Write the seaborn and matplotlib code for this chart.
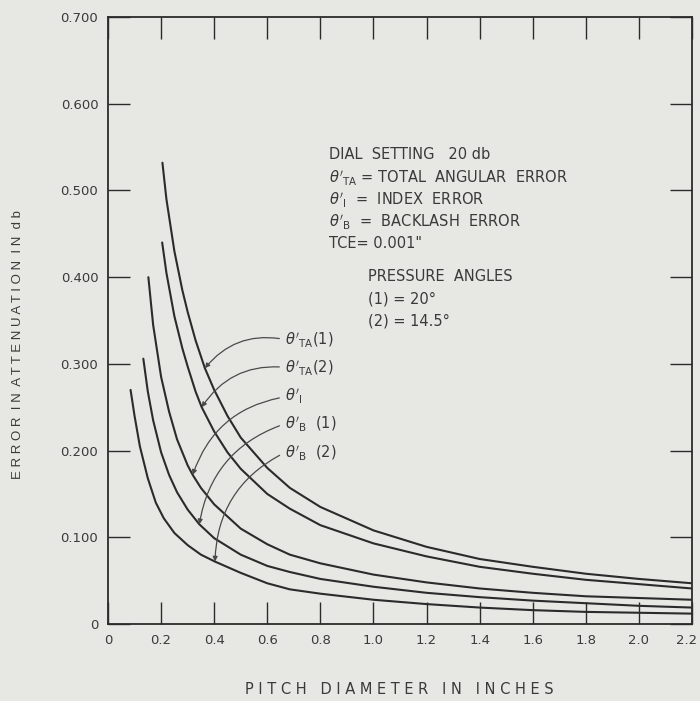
import matplotlib
matplotlib.use("Agg")
import matplotlib.pyplot as plt
import matplotlib.transforms as mtransforms
import seaborn as sns
import pandas as pd

# values
ta1_x = [0.205, 0.22, 0.25, 0.28, 0.30, 0.33, 0.365, 0.40, 0.45, 0.50, 0.60, 0.685, 0.80, 1.0, 1.2, 1.4, 1.6, 1.8, 2.0, 2.2]
ta1_y = [0.532, 0.490, 0.430, 0.385, 0.360, 0.327, 0.295, 0.270, 0.240, 0.215, 0.180, 0.157, 0.135, 0.108, 0.089, 0.075, 0.066, 0.058, 0.052, 0.047]

ta2_x = [0.204, 0.22, 0.25, 0.28, 0.30, 0.33, 0.353, 0.40, 0.45, 0.50, 0.60, 0.685, 0.80, 1.0, 1.2, 1.4, 1.6, 1.8, 2.0, 2.2]
ta2_y = [0.440, 0.405, 0.355, 0.318, 0.297, 0.268, 0.250, 0.222, 0.198, 0.179, 0.150, 0.133, 0.114, 0.093, 0.078, 0.066, 0.058, 0.051, 0.046, 0.041]

i_x = [0.152, 0.17, 0.20, 0.23, 0.26, 0.30, 0.319, 0.35, 0.40, 0.50, 0.60, 0.685, 0.80, 1.0, 1.2, 1.4, 1.6, 1.8, 2.0, 2.2]
i_y = [0.400, 0.345, 0.285, 0.245, 0.213, 0.183, 0.172, 0.157, 0.138, 0.110, 0.092, 0.080, 0.070, 0.057, 0.048, 0.041, 0.036, 0.032, 0.030, 0.028]

b1_x = [0.133, 0.15, 0.17, 0.20, 0.23, 0.26, 0.30, 0.344, 0.40, 0.50, 0.60, 0.685, 0.80, 1.0, 1.2, 1.4, 1.6, 1.8, 2.0, 2.2]
b1_y = [0.306, 0.268, 0.235, 0.198, 0.172, 0.152, 0.132, 0.115, 0.099, 0.080, 0.067, 0.060, 0.052, 0.043, 0.036, 0.031, 0.027, 0.024, 0.021, 0.019]

b2_x = [0.085, 0.10, 0.12, 0.15, 0.18, 0.21, 0.25, 0.30, 0.35, 0.403, 0.50, 0.60, 0.685, 0.80, 1.0, 1.2, 1.4, 1.6, 1.8, 2.0, 2.2]
b2_y = [0.270, 0.240, 0.205, 0.168, 0.140, 0.122, 0.105, 0.091, 0.080, 0.072, 0.059, 0.047, 0.040, 0.035, 0.028, 0.023, 0.019, 0.016, 0.014, 0.013, 0.012]

curve_names = ["TA1", "TA2", "I", "B1", "B2"]
curve_labels = [r"$\theta'_{\mathrm{TA}}$(1)", r"$\theta'_{\mathrm{TA}}$(2)", r"$\theta'_{\mathrm{I}}$",
                r"$\theta'_{\mathrm{B}}$  (1)", r"$\theta'_{\mathrm{B}}$  (2)"]
# where each callout arrow touches its curve
tip_x = [0.365, 0.353, 0.319, 0.344, 0.403]
tip_y = [0.295, 0.250, 0.172, 0.115, 0.072]
label_y = [0.328, 0.296, 0.262, 0.231, 0.198]

xticks = [0, 0.2, 0.4, 0.6, 0.8, 1.0, 1.2, 1.4, 1.6, 1.8, 2.0, 2.2]
xtick_labels = ["0", "0.2", "0.4", "0.6", "0.8", "1.0", "1.2", "1.4", "1.6", "1.8", "2.0", "2.2"]
yticks = [0, 0.1, 0.2, 0.3, 0.4, 0.5, 0.6, 0.7]
ytick_labels = ["0", "0.100", "0.200", "0.300", "0.400", "0.500", "0.600", "0.700"]

frames = []
for name, xs, ys in zip(curve_names, [ta1_x, ta2_x, i_x, b1_x, b2_x], [ta1_y, ta2_y, i_y, b1_y, b2_y]):
    frames.append(pd.DataFrame({"pitch": xs, "error": ys, "curve": name}))
df = pd.concat(frames, ignore_index=True)

bg = "#e7e7e3"
ink = "#2b2b2b"
txt = "#3a3a3a"

sns.set_style("white")
plt.rcParams["font.family"] = ["DejaVu Sans"]
plt.rcParams["mathtext.fontset"] = "dejavusans"

fig = plt.figure(figsize=(7, 7.01), dpi=100, facecolor=bg)
ax = fig.add_axes([0.1543, 0.1098, 0.8343, 0.8659])
ax.set_facecolor(bg)

sns.lineplot(data=df, x="pitch", y="error", hue="curve", units="curve", estimator=None,
             sort=False, palette=[ink] * 5, linewidth=1.5, legend=False, ax=ax)

ax.set_xlim(0, 2.2)
ax.set_ylim(0, 0.7)
ax.set_xticks(xticks)
ax.set_xticklabels(xtick_labels)
ax.set_yticks(yticks)
ax.set_yticklabels(ytick_labels)
ax.tick_params(direction="in", length=16, width=1, color=ink, top=True, right=True,
               bottom=True, left=True, labelsize=9.5, labelcolor=txt, pad=7)
# nudge the last x label so it stays inside the figure
last = ax.get_xticklabels()[-1]
last.set_transform(last.get_transform() + mtransforms.ScaledTranslation(-5 / 100, 0, fig.dpi_scale_trans))
for s in ax.spines.values():
    s.set_color(ink)
    s.set_linewidth(1.3)
ax.set_xlabel("")
ax.set_ylabel("")

fig.text(0.571, 0.016, "P I T C H   D I A M E T E R   I N   I N C H E S", fontsize=10.5,
         color=txt, ha="center", va="center")
fig.text(0.026, 0.508, "E R R O R  I N  A T T E N U A T I O N  I N  d b", fontsize=9.5,
         color=txt, ha="center", va="center", rotation=90, family=["Liberation Sans", "DejaVu Sans"])

# callout labels with curved arrows
for lab, tx, ty, ly in zip(curve_labels, tip_x, tip_y, label_y):
    ax.annotate(lab, xy=(tx, ty), xytext=(0.668, ly), fontsize=10.5, color=txt,
                ha="left", va="center",
                arrowprops=dict(arrowstyle="-|>", connectionstyle="arc3,rad=0.3",
                                color="#4a4a4a", lw=0.9, mutation_scale=7,
                                shrinkA=2, shrinkB=0, relpos=(0, 0.5)))

# explanatory notes
notes = ["DIAL  SETTING   20 db",
         r"$\theta'_{\mathrm{TA}}$ = TOTAL  ANGULAR  ERROR",
         r"$\theta'_{\mathrm{I}}$  =  INDEX  ERROR",
         r"$\theta'_{\mathrm{B}}$  =  BACKLASH  ERROR",
         'TCE= 0.001"']
note_y = [0.541, 0.514, 0.489, 0.463, 0.439]
for t, y in zip(notes, note_y):
    ax.text(0.832, y, t, fontsize=10.5, color=txt, ha="left", va="center")

pressure = ["PRESSURE  ANGLES", "(1) = 20°", "(2) = 14.5°"]
pressure_y = [0.401, 0.375, 0.350]
for t, y in zip(pressure, pressure_y):
    ax.text(0.980, y, t, fontsize=10.5, color=txt, ha="left", va="center")

fig.savefig("out.png", dpi=100, facecolor=bg)
